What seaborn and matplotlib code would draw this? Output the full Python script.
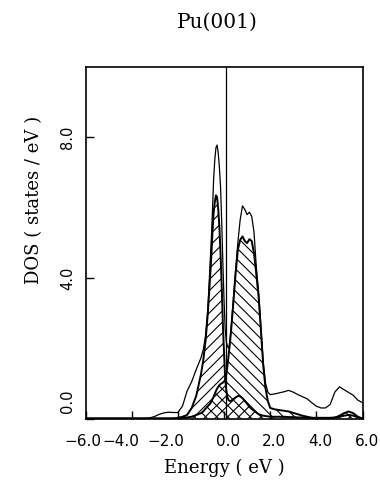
import matplotlib
matplotlib.use("Agg")
import matplotlib.pyplot as plt
import matplotlib.transforms as mtrans
import seaborn as sns

# ---------------- data ----------------
energy = [-6.0, -3.4, -3.2, -3.0, -2.8, -2.6, -2.4, -2.2, -2.0, -1.8, -1.6, -1.4, -1.2, -1.0, -0.9, -0.8, -0.7,
          -0.6, -0.55, -0.5, -0.45, -0.4, -0.35, -0.3, -0.25, -0.2, -0.15, -0.1, -0.05, 0.0, 0.05, 0.1, 0.15, 0.2, 0.25, 0.3,
          0.4, 0.5, 0.6, 0.7, 0.8, 0.9, 1.0, 1.1, 1.2, 1.3, 1.4, 1.5, 1.6, 1.7, 1.8, 1.9, 2.0,
          2.2, 2.4, 2.6, 2.8, 3.0, 3.2, 3.4, 3.6, 3.8, 4.0, 4.2, 4.4, 4.6, 4.8, 5.0, 5.2, 5.4, 5.6, 5.8, 6.0]

dos_total = [0.0, 0.0, 0.02, 0.06, 0.12, 0.16, 0.18, 0.17, 0.17, 0.35, 0.78, 1.05, 1.4, 1.72, 1.95, 2.35, 3.1,
             4.45, 5.1, 5.9, 6.8, 7.35, 7.7, 7.78, 7.55, 7.15, 6.6, 5.6, 4.45, 3.4, 2.55, 2.2, 2.05, 2.0, 2.15, 2.5,
             3.35, 4.2, 5.0, 5.65, 6.05, 5.95, 5.8, 5.87, 5.75, 5.3, 4.3, 3.6, 2.6, 1.6, 1.0, 0.75, 0.68,
             0.7, 0.73, 0.76, 0.8, 0.75, 0.68, 0.62, 0.56, 0.45, 0.35, 0.3, 0.3, 0.4, 0.75, 0.9, 0.82, 0.74, 0.66, 0.52, 0.45]

dos_j52 = [0, 0, 0, 0, 0, 0, 0, 0, 0.02, 0.05, 0.1, 0.3, 0.65, 1.25, 1.65, 2.2, 3.0,
           4.05, 4.6, 5.3, 5.85, 6.15, 6.35, 6.3, 5.95, 5.45, 4.7, 3.8, 2.7, 1.9, 1.15, 0.8, 0.6, 0.52, 0.5, 0.5,
           0.55, 0.6, 0.64, 0.63, 0.58, 0.5, 0.42, 0.33, 0.27, 0.22, 0.17, 0.12, 0.1, 0.08, 0.07, 0.06, 0.05,
           0.05, 0.05, 0.05, 0.04, 0.04, 0.03, 0.03, 0.02, 0.02, 0.02, 0.02, 0.02, 0.02, 0.03, 0.05, 0.08, 0.1, 0.08, 0.03, 0.0]

dos_j72 = [0, 0, 0, 0, 0, 0, 0, 0, 0, 0.02, 0.03, 0.05, 0.1, 0.15, 0.2, 0.28, 0.35,
           0.42, 0.48, 0.55, 0.62, 0.7, 0.78, 0.85, 0.9, 0.95, 0.98, 1.0, 1.02, 1.05, 1.1, 1.25, 1.5, 1.8, 2.1, 2.45,
           3.25, 4.1, 4.8, 5.08, 5.18, 5.05, 4.99, 5.1, 5.05, 4.7, 4.1, 3.45, 2.5, 1.5, 0.85, 0.5, 0.3,
           0.26, 0.24, 0.22, 0.2, 0.16, 0.12, 0.08, 0.05, 0.02, 0.0, 0.0, 0.0, 0.0, 0.02, 0.08, 0.15, 0.2, 0.15, 0.05, 0.0]

fermi_level = 0.08
x_ticks = [-6.0, -4.0, -2.0, 0.0, 2.0, 4.0, 6.0]
x_tick_labels = ["\u22126.0", "\u22124.0", "\u22122.0", "0.0", "2.0", "4.0", "6.0"]
y_ticks = [0.0, 4.0, 8.0]
y_tick_labels = ["0.0", "4.0", "8.0"]
title = "Pu(001)"
x_label = "Energy ( eV )"
y_label = "DOS ( states / eV )"

# ---------------- style ----------------
sns.set_theme(style="white")
plt.rcParams["font.family"] = ["DejaVu Serif"]
plt.rcParams["hatch.linewidth"] = 0.8
plt.rcParams["hatch.color"] = "black"

fig = plt.figure(figsize=(3.8, 4.83), dpi=100)
W, H = 380.0, 483.0
ax = fig.add_axes([85.5 / W, 1 - 418.5 / H, 277 / W, 351.5 / H])

# hatched partial DOS (overlap becomes cross-hatched)
ax.fill_between(energy, 0, dos_j52, facecolor="none", edgecolor="black", hatch="///", linewidth=0)
ax.fill_between(energy, 0, dos_j72, facecolor="none", edgecolor="black", hatch="\\\\\\", linewidth=0)

sns.lineplot(x=energy, y=dos_j52, ax=ax, color="black", linewidth=1.4, estimator=None)
sns.lineplot(x=energy, y=dos_j72, ax=ax, color="black", linewidth=1.4, estimator=None)
sns.lineplot(x=energy, y=dos_total, ax=ax, color="black", linewidth=0.9, estimator=None)

ax.axvline(fermi_level, color="black", linewidth=0.9)

ax.set_xlim(-6, 6)
ax.set_ylim(0, 10)

for s in ax.spines.values():
    s.set_visible(True)
    s.set_color("black")
    s.set_linewidth(1.2)

ax.set_xticks(x_ticks)
ax.set_xticklabels(x_tick_labels, family="DejaVu Sans", fontsize=11)
ax.set_yticks(y_ticks)
ax.set_yticklabels(y_tick_labels, family="DejaVu Sans", fontsize=10.5, rotation=90, ha="center", va="center")
ax.tick_params(axis="x", direction="in", length=6, width=1, pad=11, bottom=True, top=False, colors="black")
ax.tick_params(axis="y", direction="in", length=6, width=1, pad=13, left=True, right=False, colors="black")

# reproduce the label placement of the original figure
x_offsets = [-2.5, -11, -12, 4, 4, 4, 4]
for lab, dx in zip(ax.get_xticklabels(), x_offsets):
    lab.set_transform(lab.get_transform() + mtrans.ScaledTranslation(dx / 100.0, 0, fig.dpi_scale_trans))
y_offsets = [17, 0, 0]
for lab, dy in zip(ax.get_yticklabels(), y_offsets):
    lab.set_transform(lab.get_transform() + mtrans.ScaledTranslation(0, dy / 100.0, fig.dpi_scale_trans))

ax.set_xlabel(x_label, fontsize=13, color="black")
ax.xaxis.label.set_verticalalignment("center")
ax.xaxis.set_label_coords(0.5, -(468 - 418.5) / 351.5)
ax.set_ylabel(y_label, fontsize=13, color="black")
ax.yaxis.label.set_verticalalignment("center")
ax.yaxis.set_label_coords((34 - 85.5) / 277, (418.5 - 200) / 351.5)

fig.text(217 / W, 1 - 22 / H, title, ha="center", va="center", fontsize=14.5, color="black")

fig.savefig("out.png", dpi=100)
